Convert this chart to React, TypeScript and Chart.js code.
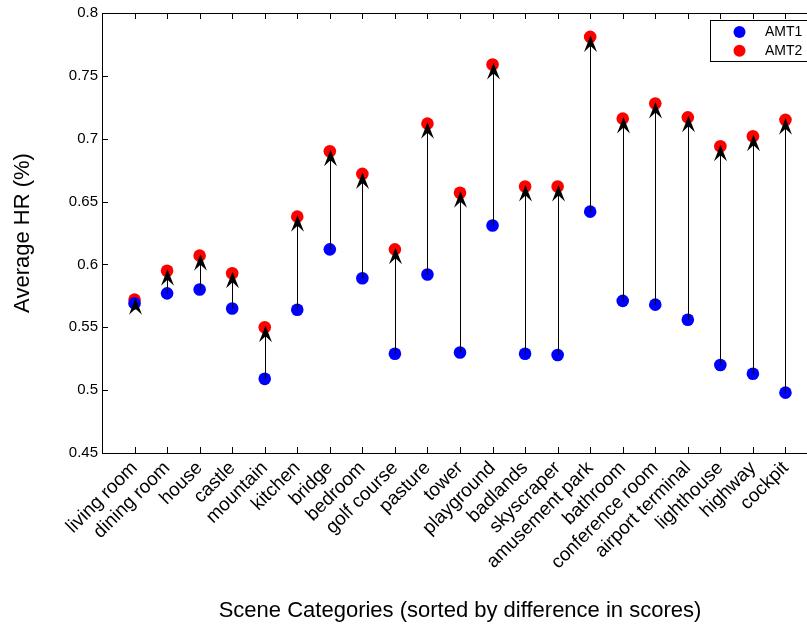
import { useEffect, useRef } from 'react';
import { Chart, registerables } from 'chart.js';

Chart.register(...registerables);

const categories = [
  'living room', 'dining room', 'house', 'castle', 'mountain', 'kitchen', 'bridge',
  'bedroom', 'golf course', 'pasture', 'tower', 'playground', 'badlands', 'skyscraper',
  'amusement park', 'bathroom', 'conference room', 'airport terminal', 'lighthouse',
  'highway', 'cockpit',
];
const amt1 = [
  0.569, 0.577, 0.580, 0.565, 0.509, 0.564, 0.612, 0.589, 0.529, 0.592, 0.530,
  0.631, 0.529, 0.528, 0.642, 0.571, 0.568, 0.556, 0.520, 0.513, 0.498,
];
const amt2 = [
  0.572, 0.595, 0.607, 0.593, 0.550, 0.638, 0.690, 0.672, 0.612, 0.712, 0.657,
  0.759, 0.662, 0.662, 0.781, 0.716, 0.728, 0.717, 0.694, 0.702, 0.715,
];
const yMin = 0.45;
const yMax = 0.8;
const yStep = 0.05;

const FONT = '"Liberation Sans", Arial, Helvetica, sans-serif';

const framePlugin = {
  id: 'frame',
  afterDatasetsDraw(chart: any) {
    const ctx = chart.ctx;
    const xs = chart.scales.x;
    const ys = chart.scales.y;
    const { left, right, top, bottom } = chart.chartArea;
    ctx.save();
    // arrows from AMT1 to AMT2
    ctx.strokeStyle = '#000';
    ctx.fillStyle = '#000';
    ctx.lineWidth = 1;
    for (let i = 0; i < categories.length; i++) {
      const px = Math.round(xs.getPixelForValue(i + 1)) + 0.5;
      const y1 = ys.getPixelForValue(amt1[i]);
      const y2 = ys.getPixelForValue(amt2[i]);
      const dir = y2 <= y1 ? 1 : -1;
      const tip = y2 - dir * 1.5;
      ctx.beginPath();
      ctx.moveTo(px, y1);
      ctx.lineTo(px, tip + dir * 8);
      ctx.stroke();
      ctx.beginPath();
      ctx.moveTo(px, tip);
      ctx.lineTo(px - 6.5, tip + dir * 16.5);
      ctx.lineTo(px, tip + dir * 10.5);
      ctx.lineTo(px + 6.5, tip + dir * 16.5);
      ctx.closePath();
      ctx.fill();
    }
    // frame
    ctx.strokeStyle = '#000';
    ctx.lineWidth = 1;
    ctx.strokeRect(Math.round(left) + 0.5, Math.round(top) + 0.5, Math.round(right - left), Math.round(bottom - top));
    // ticks
    const tl = 6;
    ctx.beginPath();
    for (let i = 0; i < categories.length; i++) {
      const px = Math.round(xs.getPixelForValue(i + 1)) + 0.5;
      ctx.moveTo(px, bottom);
      ctx.lineTo(px, bottom - tl);
      ctx.moveTo(px, top);
      ctx.lineTo(px, top + tl);
    }
    for (let v = yMin; v <= yMax + 1e-9; v += yStep) {
      const py = Math.round(ys.getPixelForValue(v)) + 0.5;
      ctx.moveTo(left, py);
      ctx.lineTo(left + tl, py);
      ctx.moveTo(right, py);
      ctx.lineTo(right - tl, py);
    }
    ctx.stroke();
    ctx.restore();
  },
  afterDraw(chart: any) {
    const ctx = chart.ctx;
    ctx.save();
    const bx = 710.5;
    const by = 20.5;
    const bw = 140;
    const bh = 41;
    ctx.fillStyle = '#fff';
    ctx.fillRect(bx, by, bw, bh);
    ctx.strokeStyle = '#000';
    ctx.lineWidth = 1;
    ctx.strokeRect(bx, by, bw, bh);
    ctx.font = `14px ${FONT}`;
    ctx.textBaseline = 'middle';
    chart.data.datasets.forEach((ds: any, i: number) => {
      const cy = 32 + i * 18.7;
      ctx.beginPath();
      ctx.fillStyle = ds.backgroundColor;
      ctx.arc(739.5, cy, 6, 0, Math.PI * 2);
      ctx.fill();
      ctx.fillStyle = '#000';
      ctx.fillText(ds.label, 765, cy + 0.5);
    });
    ctx.restore();
  },
};

export default function App() {
  const ref = useRef<HTMLCanvasElement>(null);
  useEffect(() => {
    if (!ref.current) return;
    const chart = new Chart(ref.current, {
      type: 'scatter',
      data: {
        datasets: [
          {
            label: 'AMT1',
            data: amt1.map((v, i) => ({ x: i + 1, y: v })),
            backgroundColor: '#0000ff',
            borderColor: '#0000ff',
            pointRadius: 6.3,
            pointBorderWidth: 0,
          },
          {
            label: 'AMT2',
            data: amt2.map((v, i) => ({ x: i + 1, y: v })),
            backgroundColor: '#ff0000',
            borderColor: '#ff0000',
            pointRadius: 6.3,
            pointBorderWidth: 0,
          },
        ],
      },
      options: {
        animation: false,
        responsive: false,
        maintainAspectRatio: false,
        layout: { padding: { left: 0, top: 13, right: 12, bottom: 0 } },
        plugins: { legend: { display: false }, tooltip: { enabled: false } },
        scales: {
          x: {
            type: 'linear',
            min: 0,
            max: categories.length + 1,
            grid: { display: false, drawTicks: false },
            border: { display: false },
            afterBuildTicks: (scale: any) => {
              scale.ticks = categories.map((_, i) => ({ value: i + 1 }));
            },
            afterFit: (scale: any) => {
              scale.height = 172;
            },
            ticks: {
              autoSkip: false,
              maxRotation: 45,
              minRotation: 45,
              padding: 4,
              color: '#000',
              font: { family: FONT, size: 19 },
              callback: (v: any) => categories[Math.round(v) - 1] ?? '',
            },
            title: {
              display: true,
              text: 'Scene Categories (sorted by difference in scores)',
              color: '#000',
              font: { family: FONT, size: 22 },
              padding: { top: 0, bottom: 1 },
            },
          },
          y: {
            type: 'linear',
            min: yMin,
            max: yMax,
            grid: { display: false, drawTicks: false },
            border: { display: false },
            afterFit: (scale: any) => {
              scale.width = 102;
            },
            ticks: {
              stepSize: yStep,
              padding: 4,
              color: '#000',
              font: { family: FONT, size: 15 },
              callback: (v: any) => String(Number(Number(v).toFixed(2))),
            },
            title: {
              display: true,
              text: 'Average HR (%)',
              color: '#000',
              font: { family: FONT, size: 22 },
              padding: { top: 10, bottom: 0 },
            },
          },
        },
      },
      plugins: [framePlugin],
    });
    return () => chart.destroy();
  }, []);
  return (
    <div style={{ position: 'fixed', left: 0, top: 0, width: 807, height: 625, overflow: 'hidden', background: '#fff' }}>
      <canvas ref={ref} width={830} height={625} style={{ display: 'block' }} />
    </div>
  );
}
